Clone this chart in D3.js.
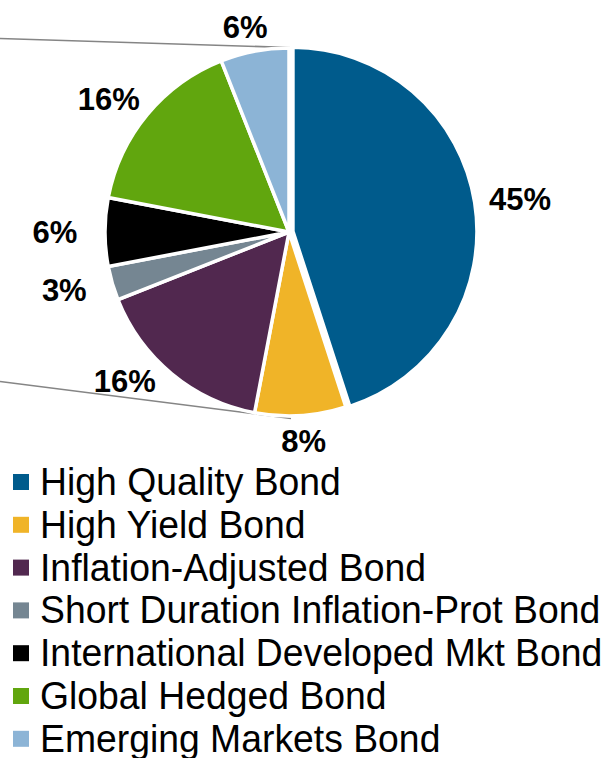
<!DOCTYPE html>
<html><head><meta charset="utf-8">
<script src="https://cdn.jsdelivr.net/npm/d3@7"></script>
<style>html,body{margin:0;padding:0;background:#fff;} svg{display:block}</style>
</head><body>
<svg id="chart" width="605" height="758"></svg>
<script>
const categories = ["High Quality Bond","High Yield Bond","Inflation-Adjusted Bond","Short Duration Inflation-Prot Bond","International Developed Mkt Bond","Global Hedged Bond","Emerging Markets Bond"];
const values = [45, 8, 16, 3, 6, 16, 6];
const valueLabels = ["45%","8%","16%","3%","6%","16%","6%"];
const colors = ["#005b8c","#f0b428","#51284f","#758692","#000000","#61a60e","#8cb4d6"];

const svg = d3.select("#chart");
const cx = 289, cy = 232, R = 184;
const font = "'Liberation Sans', Arial, Helvetica, sans-serif";

// connector lines (to an off-canvas secondary plot on the left)
const connectors = [
  [[0, 38.5], [cx + 1, cy - R - 0.5]],
  [[0, 381.5], [cx + 2, cy + R + 2.5]]
];
svg.append("g").selectAll("line").data(connectors).join("line")
  .attr("x1", d => d[0][0]).attr("y1", d => d[0][1])
  .attr("x2", d => d[1][0]).attr("y2", d => d[1][1])
  .attr("stroke", "#858585").attr("stroke-width", 1.6);

const pie = d3.pie().sort(null).value(d => d)(values);
const arc = d3.arc().innerRadius(0).outerRadius(R);
const explode = i => i === 0 ? 4 : 0;

const g = svg.append("g").attr("transform", `translate(${cx},${cy})`);
g.selectAll("path").data(pie).join("path")
  .attr("d", arc)
  .attr("transform", (d, i) => {
    const a = (d.startAngle + d.endAngle) / 2, e = explode(i);
    return `translate(${e * Math.sin(a)},${-e * Math.cos(a)})`;
  })
  .attr("fill", (d, i) => colors[i])
  .attr("stroke", "#fff").attr("stroke-width", 3.5).attr("stroke-linejoin", "miter");

// data labels, outside end, avoid connector lines
const a = 234, b = 209, fs = 31, capH = fs * 0.716;
const lineY = (x, c) => c[0][1] + (c[1][1] - c[0][1]) * (x - c[0][0]) / (c[1][0] - c[0][0]);
const lab = svg.append("g");
pie.forEach((d, i) => {
  const t = lab.append("text").text(valueLabels[i])
    .attr("font-family", font).attr("font-weight", "bold").attr("font-size", fs)
    .attr("text-anchor", "middle").attr("fill", "#000");
  const w = t.node().getComputedTextLength();
  let th = (d.startAngle + d.endAngle) / 2;
  let x, y;
  for (let k = 0; k < 60; k++) {
    x = cx + a * Math.sin(th); y = cy - b * Math.cos(th);
    const bot = y + capH / 2, top = y - capH / 2, left = x - w / 2, right = x + w / 2;
    let hit = false;
    connectors.forEach(c => {
      const l1 = lineY(left, c), l2 = lineY(Math.min(right, c[1][0]), c);
      if (left < c[1][0] && bot > Math.min(l1, l2) - 1 && top < Math.max(l1, l2) + 1) hit = true;
    });
    if (!hit) break;
    th += (th > Math.PI ? 1 : -1) * Math.PI / 360;
  }
  t.attr("x", x).attr("y", y + capH / 2);
});

// legend
const lg = svg.append("g");
const rowH = 42.8, base0 = 495;
categories.forEach((c, i) => {
  const by = base0 + i * rowH;
  lg.append("rect").attr("x", 13).attr("y", by - 21).attr("width", 16).attr("height", 16).attr("fill", colors[i]);
  lg.append("text").text(c)
    .attr("transform", `translate(40,${by}) scale(0.97,1)`)
    .attr("font-family", font).attr("font-size", 38.5).attr("fill", "#000");
});
</script>
</body></html>
